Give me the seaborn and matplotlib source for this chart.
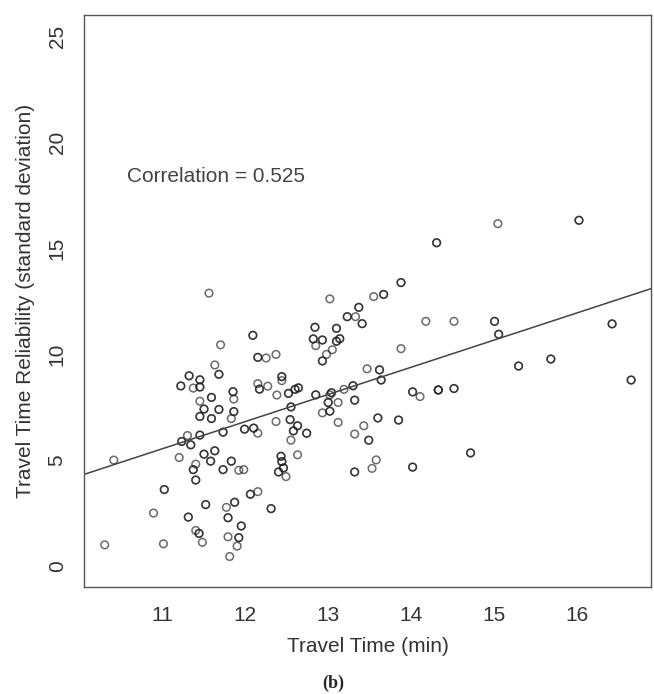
import numpy as np
import pandas as pd
import matplotlib
matplotlib.use("Agg")
import matplotlib.pyplot as plt
import seaborn as sns

# travel time (min) and its reliability (sd);
# n_obs > 1 where circles overlap (darker rings)
travel_time = [
    10.30, 10.41, 10.89, 11.01, 11.02, 11.20, 11.31, 11.40, 11.44, 11.48,
    11.52, 11.77, 11.79, 11.79, 11.81, 11.37, 11.40, 11.40, 11.23, 11.30,
    11.34, 11.45, 11.50, 11.58, 11.63, 11.73, 11.73, 11.45, 11.59, 11.56,
    11.70, 11.63, 11.68, 11.32, 11.45, 11.22, 11.37, 11.45, 11.59, 11.45,
    11.50, 11.68, 11.83, 12.09, 12.15, 12.15, 12.17, 11.85, 11.86, 11.86,
    11.99, 12.10, 12.15, 11.83, 11.92, 11.98, 12.06, 12.15, 11.87, 11.95,
    11.92, 11.90, 12.25, 12.37, 12.44, 12.44, 12.27, 12.38, 12.52, 12.60,
    12.64, 12.55, 12.85, 13.02, 13.37, 13.23, 13.33, 13.41, 12.84, 13.10,
    12.82, 12.93, 12.85, 13.10, 13.14, 13.05, 12.98, 12.93, 13.47, 13.30,
    13.19, 13.04, 13.02, 13.32, 13.00, 13.12, 12.93, 13.02, 12.37, 12.54,
    13.12, 12.63, 12.58, 12.74, 12.55, 12.63, 12.43, 12.44, 12.46, 12.40,
    12.49, 12.31, 13.62, 13.64, 13.88, 13.88, 13.67, 13.55, 13.60, 13.85,
    13.43, 13.32, 13.49, 13.58, 13.53, 13.32, 15.05, 14.31, 14.18, 14.52,
    15.01, 15.06, 16.03, 16.43, 15.30, 15.69, 16.66, 14.02, 14.11, 14.33,
    14.52, 14.72, 14.02,
]
reliability = [
    0.99, 4.99, 2.49, 1.04, 3.60, 5.11, 2.30, 1.67, 1.53, 1.11,
    2.89, 2.76, 2.27, 1.37, 0.44, 4.54, 4.05, 4.80, 5.87, 6.15,
    5.71, 6.17, 5.27, 4.94, 5.43, 6.31, 4.54, 7.05, 6.95, 12.87,
    10.43, 9.48, 9.04, 8.97, 8.78, 8.49, 8.39, 8.44, 7.95, 7.77,
    7.40, 7.38, 6.95, 10.88, 9.84, 8.60, 8.34, 8.22, 7.87, 7.28,
    6.45, 6.50, 6.26, 4.94, 4.51, 4.54, 3.38, 3.50, 3.00, 1.88,
    1.33, 0.93, 9.81, 9.98, 8.93, 8.74, 8.48, 8.06, 8.14, 8.33,
    8.40, 7.50, 8.07, 12.60, 12.20, 11.76, 11.76, 11.43, 11.26, 11.21,
    10.71, 10.66, 10.39, 10.60, 10.72, 10.20, 9.98, 9.67, 9.30, 8.50,
    8.33, 8.17, 8.07, 7.82, 7.71, 7.71, 7.22, 7.30, 6.81, 6.90,
    6.77, 6.61, 6.37, 6.26, 5.93, 5.24, 5.17, 4.92, 4.62, 4.43,
    4.21, 2.70, 9.25, 8.77, 10.25, 13.37, 12.81, 12.71, 6.98, 6.88,
    6.61, 6.22, 5.93, 5.00, 4.60, 4.43, 16.15, 15.25, 11.54, 11.54,
    11.54, 10.93, 16.31, 11.42, 9.43, 9.76, 8.77, 8.21, 7.99, 8.30,
    8.37, 5.33, 4.66,
]
n_obs = [
    1, 1, 1, 1, 2, 1, 2, 1, 2, 1,
    2, 1, 2, 1, 1, 2, 2, 1, 2, 1,
    2, 2, 2, 2, 2, 2, 2, 2, 2, 1,
    1, 1, 2, 2, 2, 2, 1, 2, 2, 1,
    2, 2, 1, 2, 2, 1, 2, 2, 1, 2,
    2, 2, 1, 2, 1, 1, 2, 1, 2, 2,
    2, 1, 1, 1, 2, 1, 1, 1, 2, 2,
    2, 2, 2, 1, 2, 2, 1, 2, 2, 2,
    2, 2, 1, 2, 2, 1, 1, 2, 1, 2,
    1, 2, 1, 2, 2, 1, 1, 2, 1, 2,
    1, 2, 2, 2, 1, 1, 2, 2, 2, 2,
    1, 2, 2, 2, 1, 2, 2, 1, 2, 2,
    1, 1, 2, 1, 1, 2, 1, 2, 1, 1,
    2, 2, 2, 2, 2, 2, 2, 2, 1, 3,
    2, 2, 2,
]

# fitted line as drawn on the chart (intercept, slope)
fit_intercept = -8.55
fit_slope = 1.28

x_ticks = [11, 12, 13, 14, 15, 16]
y_ticks = [0, 5, 10, 15, 20, 25]
x_range = (10.05, 16.9)
y_range = (-1, 26)

df = pd.DataFrame({"TravelTime": np.repeat(travel_time, n_obs),
                   "Reliability": np.repeat(reliability, n_obs)})
fit = pd.DataFrame({"TravelTime": list(x_range)})
fit["Reliability"] = fit_intercept + fit_slope * fit["TravelTime"]

sns.set_style("white")
plt.rcParams["font.family"] = ["Liberation Sans", "DejaVu Sans"]
grey = "#333333"
fs = 15

fig = plt.figure(figsize=(6.54, 6.94), dpi=100)
ax = fig.add_axes([84 / 654, 107 / 694, 567 / 654, 572 / 694])

sns.scatterplot(data=df, x="TravelTime", y="Reliability", ax=ax,
                s=30, marker="o", facecolors="none", edgecolor="#1a1a1a",
                linewidth=1.1, alpha=0.65)
sns.lineplot(data=fit, x="TravelTime", y="Reliability", ax=ax,
             color="#444444", lw=1.1)

ax.set_xlim(*x_range)
ax.set_ylim(*y_range)
ax.set_xticks(x_ticks)
ax.set_yticks(y_ticks)
ax.set_yticklabels([str(t) for t in y_ticks], rotation=90, va="center")
ax.tick_params(direction="out", length=6.5, width=0.9, color="#555555",
               labelsize=fs, labelcolor=grey)
ax.tick_params(axis="x", pad=7)
ax.tick_params(axis="y", pad=6)
for sp in ax.spines.values():
    sp.set_color("#555555")
    sp.set_linewidth(1.0)

ax.set_xlabel("Travel Time (min)", fontsize=fs, color=grey, labelpad=9)
ax.set_ylabel("Travel Time Reliability (standard deviation)", fontsize=fs,
              color=grey, labelpad=9)
ax.text(10.57, 18.4, "Correlation = 0.525", fontsize=fs, color="#444444",
        va="center", ha="left")
fig.text(333 / 654, 1 - 683 / 694, "(b)", fontsize=13,
         fontweight="bold", family="Liberation Serif", ha="center", va="center")

fig.savefig("out.png", dpi=100)
